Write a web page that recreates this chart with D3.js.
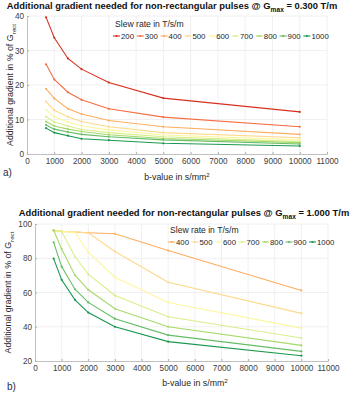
<!DOCTYPE html>
<html>
<head>
<meta charset="utf-8">
<script src="https://cdn.jsdelivr.net/npm/d3@7"></script>
<style>
	body { margin: 0; background: #fff; }
	text { font-family: Arial, "Liberation Sans", sans-serif; }
</style>
</head>
<body>
<div id="chart"></div>
<script>
// b-values shared by both panels
const bValues = [700, 1000, 1500, 2000, 3000, 5000, 10000];
const xTicks = [0, 1000, 2000, 3000, 4000, 5000, 6000, 7000, 8000, 9000, 10000, 11000];

// panel a: Gmax = 0.300 T/m
const slewA = [200, 300, 400, 500, 600, 700, 800, 900, 1000];
const gradA = [
	[39.6, 33.7, 27.7, 24.6, 20.7, 16.2, 12.2],
	[26.0, 21.6, 17.9, 15.7, 13.1, 10.7, 7.9],
	[18.9, 16.1, 13.1, 11.6, 9.7, 7.9, 5.7],
	[15.2, 12.7, 10.8, 9.4, 7.9, 6.2, 4.7],
	[12.8, 10.8, 9.3, 8.1, 7.0, 5.5, 4.1],
	[10.8, 9.3, 8.1, 7.1, 6.2, 5.0, 3.6],
	[9.4, 8.1, 7.2, 6.5, 5.6, 4.5, 3.3],
	[8.4, 7.2, 6.4, 5.7, 5.0, 4.1, 2.9],
	[7.5, 6.2, 5.3, 4.4, 4.0, 3.1, 2.3]
];
const yTicksA = [0, 10, 20, 30, 40];

// panel b: Gmax = 1.000 T/m
const slewB = [400, 500, 600, 700, 800, 900, 1000];
const gradB = [
	[96.1, 95.7, 95.3, 94.9, 94.3, 84.5, 61.2],
	[96.1, 95.7, 95.3, 94.8, 83.9, 66.0, 47.8],
	[96.1, 95.7, 95.1, 83.5, 68.9, 54.2, 39.2],
	[96.3, 95.6, 81.0, 70.7, 58.3, 45.8, 33.4],
	[96.4, 85.4, 70.1, 61.6, 50.5, 40.0, 29.1],
	[89.3, 75.1, 61.9, 54.2, 44.7, 35.1, 25.6],
	[79.8, 67.4, 55.7, 48.3, 40.0, 31.3, 23.1]
];
const yTicksB = [20, 40, 60, 80, 100];

const slewColors = {
	200: "#d7301f", 300: "#f46d43", 400: "#fdae61", 500: "#fed98b", 600: "#fdf6a0",
	700: "#d9ef8b", 800: "#a6d96a", 900: "#66bd63", 1000: "#1a9850"
};

const W = 359, H = 400;
const svg = d3.select("#chart").append("svg")
	.attr("width", W)
	.attr("height", H);

function draw_panel(opts) {
	const g = svg.append("g");
	const x = d3.scaleLinear().domain([0, 11000]).range([opts.left, opts.right]);
	const y = d3.scaleLinear().domain(opts.yDomain).range([opts.bottom, opts.top]);

	// grid
	g.append("g").selectAll("line.vx")
		.data(xTicks.slice(1))
		.enter().append("line")
		.attr("x1", d => x(d)).attr("x2", d => x(d))
		.attr("y1", opts.top).attr("y2", opts.bottom)
		.attr("stroke", "#ececec").attr("stroke-width", 0.8);
	g.append("g").selectAll("line.hy")
		.data(opts.yTicks.slice(1))
		.enter().append("line")
		.attr("x1", opts.left).attr("x2", opts.right)
		.attr("y1", d => y(d)).attr("y2", d => y(d))
		.attr("stroke", "#ececec").attr("stroke-width", 0.8);

	// axes
	const xAxis = g.append("g")
		.attr("transform", `translate(0,${opts.bottom})`)
		.call(d3.axisBottom(x).tickValues(xTicks).tickFormat(d3.format("d")).tickSize(-2).tickPadding(4));
	const yAxis = g.append("g")
		.attr("transform", `translate(${opts.left},0)`)
		.call(d3.axisLeft(y).tickValues(opts.yTicks).tickFormat(d3.format("d")).tickSize(-2).tickPadding(3));
	[xAxis, yAxis].forEach(a => {
		a.select(".domain").attr("stroke", "#b0b0b0").attr("stroke-width", 0.8);
		a.selectAll(".tick line").attr("stroke", "#b0b0b0");
		a.selectAll("text").attr("fill", "#404040").style("font-size", "8.2px")
			.style("font-family", "Arial, 'Liberation Sans', sans-serif");
	});

	// series
	const line = d3.line()
		.x((d, i) => x(bValues[i]))
		.y(d => y(d));

	opts.series.forEach((vals, k) => {
		const col = slewColors[opts.slew[k]];
		g.append("path")
			.datum(vals)
			.attr("d", line)
			.attr("fill", "none")
			.attr("stroke", col)
			.attr("stroke-width", 1.1);
		g.selectAll(null)
			.data(vals)
			.enter().append("circle")
			.attr("cx", (d, i) => x(bValues[i]))
			.attr("cy", d => y(d))
			.attr("r", 1.1)
			.attr("fill", col);
	});

	// legend
	const lg = g.append("g");
	lg.append("text")
		.attr("x", opts.legX + 2).attr("y", opts.legY - 9)
		.attr("fill", "#262626").style("font-size", "8.6px")
		.text("Slew rate in T/s/m");
	opts.slew.forEach((s, k) => {
		const lx = opts.legX + k * opts.legStep;
		lg.append("line")
			.attr("x1", lx).attr("x2", lx + 7)
			.attr("y1", opts.legY).attr("y2", opts.legY)
			.attr("stroke", slewColors[s]).attr("stroke-width", 1.1);
		lg.append("circle")
			.attr("cx", lx + 3.5).attr("cy", opts.legY).attr("r", 1.1)
			.attr("fill", slewColors[s]);
		lg.append("text")
			.attr("x", lx + 8).attr("y", opts.legY + 2.8)
			.attr("fill", "#262626").style("font-size", "7.8px")
			.text(s);
	});

	// title
	const t = g.append("text")
		.attr("x", opts.titleX).attr("y", opts.titleY)
		.attr("text-anchor", "middle")
		.attr("fill", "#111")
		.style("font-size", "9.4px").style("font-weight", "bold");
	t.append("tspan").text("Additional gradient needed for non-rectangular pulses @ G");
	t.append("tspan").attr("dy", 2.8).style("font-size", "6.6px").text("max");
	t.append("tspan").attr("dy", -2.8).text(" = " + opts.gmax);

	// y label
	const yl = g.append("text")
		.attr("transform", `translate(${opts.yLabX},${(opts.top + opts.bottom) / 2}) rotate(-90)`)
		.attr("text-anchor", "middle")
		.attr("fill", "#262626")
		.style("font-size", "8.8px");
	yl.append("tspan").text("Additional gradient in % of G");
	yl.append("tspan").attr("dy", 2.5).style("font-size", "6.2px").text("rect");

	// x label
	const xl = g.append("text")
		.attr("x", opts.xLabX).attr("y", opts.xLabY)
		.attr("text-anchor", "middle")
		.attr("fill", "#262626")
		.style("font-size", "8.8px");
	xl.append("tspan").text("b-value in s/mm");
	xl.append("tspan").attr("dy", -3).style("font-size", "6.2px").text("2");

	// panel letter
	g.append("text")
		.attr("x", opts.tagX).attr("y", opts.tagY)
		.attr("fill", "#1f2a44")
		.style("font-size", "10px")
		.text(opts.tag);
}

draw_panel({
	series: gradA, slew: slewA, yDomain: [0, 40], yTicks: yTicksA,
	left: 27, right: 327, top: 16, bottom: 154,
	legX: 113, legY: 36, legStep: 23.8,
	titleX: 172, titleY: 9, gmax: "0.300 T/m",
	yLabX: 13, xLabX: 177, xLabY: 180,
	tagX: 3, tagY: 176, tag: "a)"
});

draw_panel({
	series: gradB, slew: slewB, yDomain: [20, 100], yTicks: yTicksB,
	left: 35, right: 328, top: 224, bottom: 361,
	legX: 168, legY: 242, legStep: 23.5,
	titleX: 184, titleY: 216, gmax: "1.000 T/m",
	yLabX: 11, xLabX: 195, xLabY: 386,
	tagX: 7, tagY: 390, tag: "b)"
});
</script>
</body>
</html>
